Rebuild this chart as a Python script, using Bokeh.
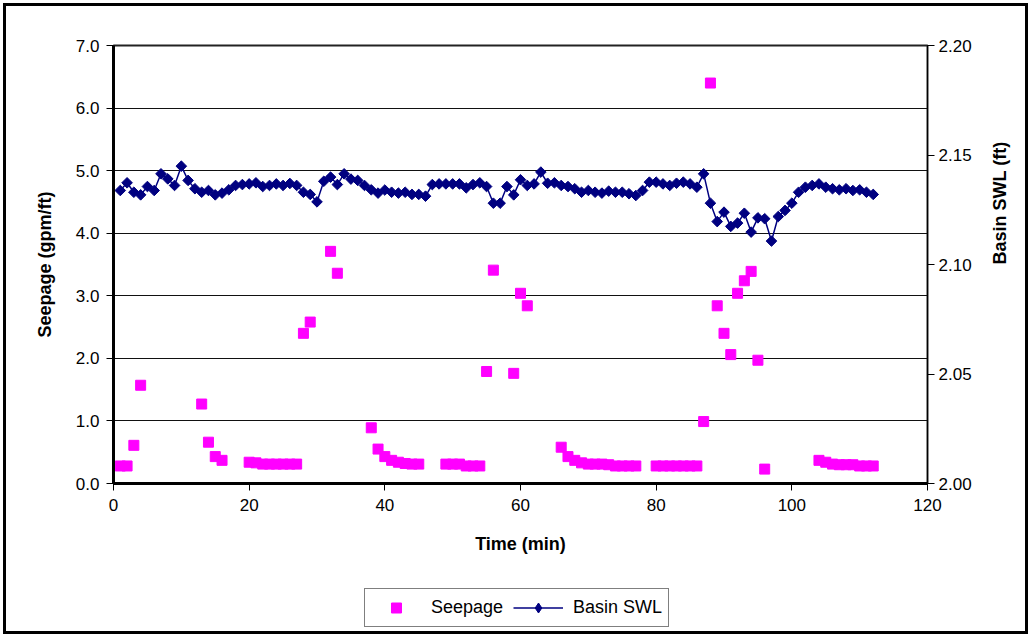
from math import pi
from bokeh.plotting import figure
from bokeh.layouts import column
from bokeh.models import (Range1d, LinearAxis, Legend, LegendItem, InlineStyleSheet,
                          FixedTicker, NumeralTickFormatter, ColumnDataSource)
from bokeh.embed import file_html
from bokeh.resources import INLINE

# ---- data ----
seep_t = [1, 2, 3, 4, 13, 14, 15, 16, 20, 21, 22, 23, 24, 25, 26, 27, 28, 29, 32, 33,
          38, 39, 40, 41, 42, 43, 44, 45, 49, 50, 51, 52, 53, 54, 55, 56, 59, 60, 61,
          66, 67, 68, 69, 70, 71, 72, 73, 74, 75, 76, 77, 80, 81, 82, 83, 84, 85, 86,
          87, 88, 89, 90, 91, 92, 93, 94, 95, 96, 104, 105, 106, 107, 108, 109, 110, 111, 112]
seep_v = [0.28, 0.28, 0.61, 1.57, 1.27, 0.66, 0.43, 0.37, 0.34, 0.33, 0.31, 0.31, 0.31, 0.31, 0.31, 0.31, 2.40, 2.58, 3.71, 3.36,
          0.89, 0.55, 0.43, 0.37, 0.34, 0.32, 0.31, 0.31, 0.31, 0.31, 0.31, 0.28, 0.28, 0.28, 1.79, 3.41, 1.76, 3.04, 2.84,
          0.58, 0.43, 0.37, 0.33, 0.31, 0.31, 0.31, 0.30, 0.28, 0.28, 0.28, 0.28, 0.28, 0.28, 0.28, 0.28, 0.28, 0.28, 0.28,
          0.99, 6.40, 2.84, 2.40, 2.06, 3.04, 3.24, 3.39, 1.97, 0.23, 0.37, 0.34, 0.31, 0.30, 0.30, 0.30, 0.28, 0.28, 0.28]

swl_t = list(range(1, 113))
swl_v = [2.1338, 2.1373, 2.1330, 2.1318, 2.1356, 2.1338, 2.1414, 2.1391, 2.1361, 2.1449,
         2.1384, 2.1346, 2.1330, 2.1338, 2.1318, 2.1326, 2.1341, 2.1361, 2.1365, 2.1368,
         2.1373, 2.1356, 2.1361, 2.1368, 2.1361, 2.1370, 2.1361, 2.1330, 2.1320, 2.1286,
         2.1380, 2.1399, 2.1365, 2.1414, 2.1390, 2.1384, 2.1361, 2.1341, 2.1326, 2.1340,
         2.1330, 2.1326, 2.1330, 2.1320, 2.1320, 2.1312, 2.1365, 2.1368, 2.1368, 2.1368,
         2.1368, 2.1350, 2.1365, 2.1373, 2.1356, 2.1280, 2.1280, 2.1356, 2.1318, 2.1387,
         2.1361, 2.1368, 2.1422, 2.1371, 2.1373, 2.1361, 2.1356, 2.1346, 2.1330, 2.1338,
         2.1330, 2.1326, 2.1335, 2.1330, 2.1330, 2.1323, 2.1315, 2.1338, 2.1376, 2.1376,
         2.1368, 2.1361, 2.1371, 2.1376, 2.1368, 2.1353, 2.1414, 2.1280, 2.1196, 2.1239,
         2.1174, 2.1189, 2.1234, 2.1148, 2.1213, 2.1209, 2.1107, 2.1219, 2.1247, 2.1280,
         2.1330, 2.1353, 2.1361, 2.1368, 2.1353, 2.1346, 2.1341, 2.1346, 2.1338, 2.1341,
         2.1330, 2.1320]

x_ticks = [0, 20, 40, 60, 80, 100, 120]
left_ticks = [0, 1, 2, 3, 4, 5, 6, 7]
right_ticks = [2.00, 2.05, 2.10, 2.15, 2.20]

FONT = "Liberation Sans"
SEEP_COLOR = "#FF00FF"
SWL_COLOR = "#000080"

p = figure(width=1031, height=577, output_backend="svg", toolbar_location=None,
           x_range=Range1d(0, 120), y_range=Range1d(0, 7),
           min_border_left=113, min_border_right=104, min_border_top=45, min_border_bottom=94)
p.extra_y_ranges = {"swl": Range1d(2.0, 2.2)}

p.background_fill_color = "white"
p.border_fill_alpha = 0
p.outline_line_color = "#222222"
p.outline_line_width = 2

p.xgrid.visible = False
p.ygrid.ticker = FixedTicker(ticks=left_ticks)
p.ygrid.grid_line_color = "#111111"
p.ygrid.grid_line_width = 1

def style_axis(ax):
    ax.axis_line_color = "black"
    ax.major_tick_line_color = "black"
    ax.minor_tick_line_color = None
    ax.major_tick_in = 0
    ax.major_tick_out = 7
    ax.major_label_text_font = FONT
    ax.major_label_text_font_size = "17px"
    ax.major_label_text_color = "black"
    ax.axis_label_text_font = FONT
    ax.axis_label_text_font_size = "18px"
    ax.axis_label_text_font_style = "bold"
    ax.axis_label_text_color = "black"

xa = p.xaxis[0]
style_axis(xa)
xa.ticker = FixedTicker(ticks=x_ticks)
xa.axis_line_width = 3
xa.axis_label = "Time (min)"
xa.major_label_standoff = 8
xa.axis_label_standoff = 20

ya = p.yaxis[0]
style_axis(ya)
ya.ticker = FixedTicker(ticks=left_ticks)
ya.formatter = NumeralTickFormatter(format="0.0")
ya.axis_line_width = 3
ya.axis_label = "Seepage (gpm/ft)"
ya.major_label_standoff = 7
ya.axis_label_standoff = 18

ra = LinearAxis(y_range_name="swl")
style_axis(ra)
ra.ticker = FixedTicker(ticks=right_ticks)
ra.formatter = NumeralTickFormatter(format="0.00")
ra.axis_line_width = 1
ra.major_label_standoff = 4
ra.axis_label = "Basin SWL (ft)"
ra.axis_label_standoff = 25
if "axis_label_orientation" in ra.properties():
    ra.axis_label_orientation = pi / 2
p.add_layout(ra, "right")

src_s = ColumnDataSource(dict(t=seep_t, v=seep_v))
src_w = ColumnDataSource(dict(t=swl_t, v=swl_v))

p.scatter("t", "v", source=src_s, marker="square", size=10,
          fill_color=SEEP_COLOR, line_color=SEEP_COLOR)
p.line("t", "v", source=src_w, y_range_name="swl", line_color=SWL_COLOR, line_width=1.5)
p.scatter("t", "v", source=src_w, y_range_name="swl", marker="square", size=7.5, angle=pi / 4,
          fill_color=SWL_COLOR, line_color=SWL_COLOR)

# ---- legend strip (separate canvas so the legend is not clipped by the plot frame) ----
lf = figure(width=1031, height=60, output_backend="svg", toolbar_location=None,
            x_range=Range1d(0, 1), y_range=Range1d(0, 1), min_border=0)
lf.xaxis.visible = False
lf.yaxis.visible = False
lf.grid.visible = False
lf.outline_line_color = None
lf.background_fill_alpha = 0
lf.border_fill_alpha = 0
# legend proxies: hidden renderers that reuse the first point of each series
proxy_s = ColumnDataSource(dict(t=seep_t[:1], v=seep_v[:1]))
proxy_w = ColumnDataSource(dict(t=swl_t[:1], v=swl_v[:1]))
l_sq = lf.scatter("t", "v", source=proxy_s, marker="square", size=10,
                  fill_color=SEEP_COLOR, line_color=SEEP_COLOR, visible=False)
l_ln = lf.line("t", "v", source=proxy_w, line_color=SWL_COLOR, line_width=1.5, visible=False)
l_dm = lf.scatter("t", "v", source=proxy_w, marker="diamond", size=10,
                  fill_color=SWL_COLOR, line_color=SWL_COLOR, visible=False)

legend = Legend(items=[LegendItem(label="Seepage", renderers=[l_sq]),
                       LegendItem(label="Basin SWL", renderers=[l_ln, l_dm])],
                orientation="horizontal", location=(251, 10))
legend.label_text_font = FONT
legend.label_text_font_size = "18px"
legend.label_text_color = "black"
legend.glyph_width = 50
legend.glyph_height = 25
legend.label_standoff = 10
legend.spacing = 10
legend.padding = 6
legend.margin = 0
legend.border_line_color = "black"
legend.border_line_width = 1
legend.background_fill_color = "white"
legend.background_fill_alpha = 1
legend.inactive_fill_alpha = 0
lf.add_layout(legend, "center")

border_css = InlineStyleSheet(css=":host { outline: 3px solid black; outline-offset: -6px; }")
layout = column(p, lf, spacing=0, stylesheets=[border_css])

open("out.html", "w").write(file_html(layout, INLINE))
